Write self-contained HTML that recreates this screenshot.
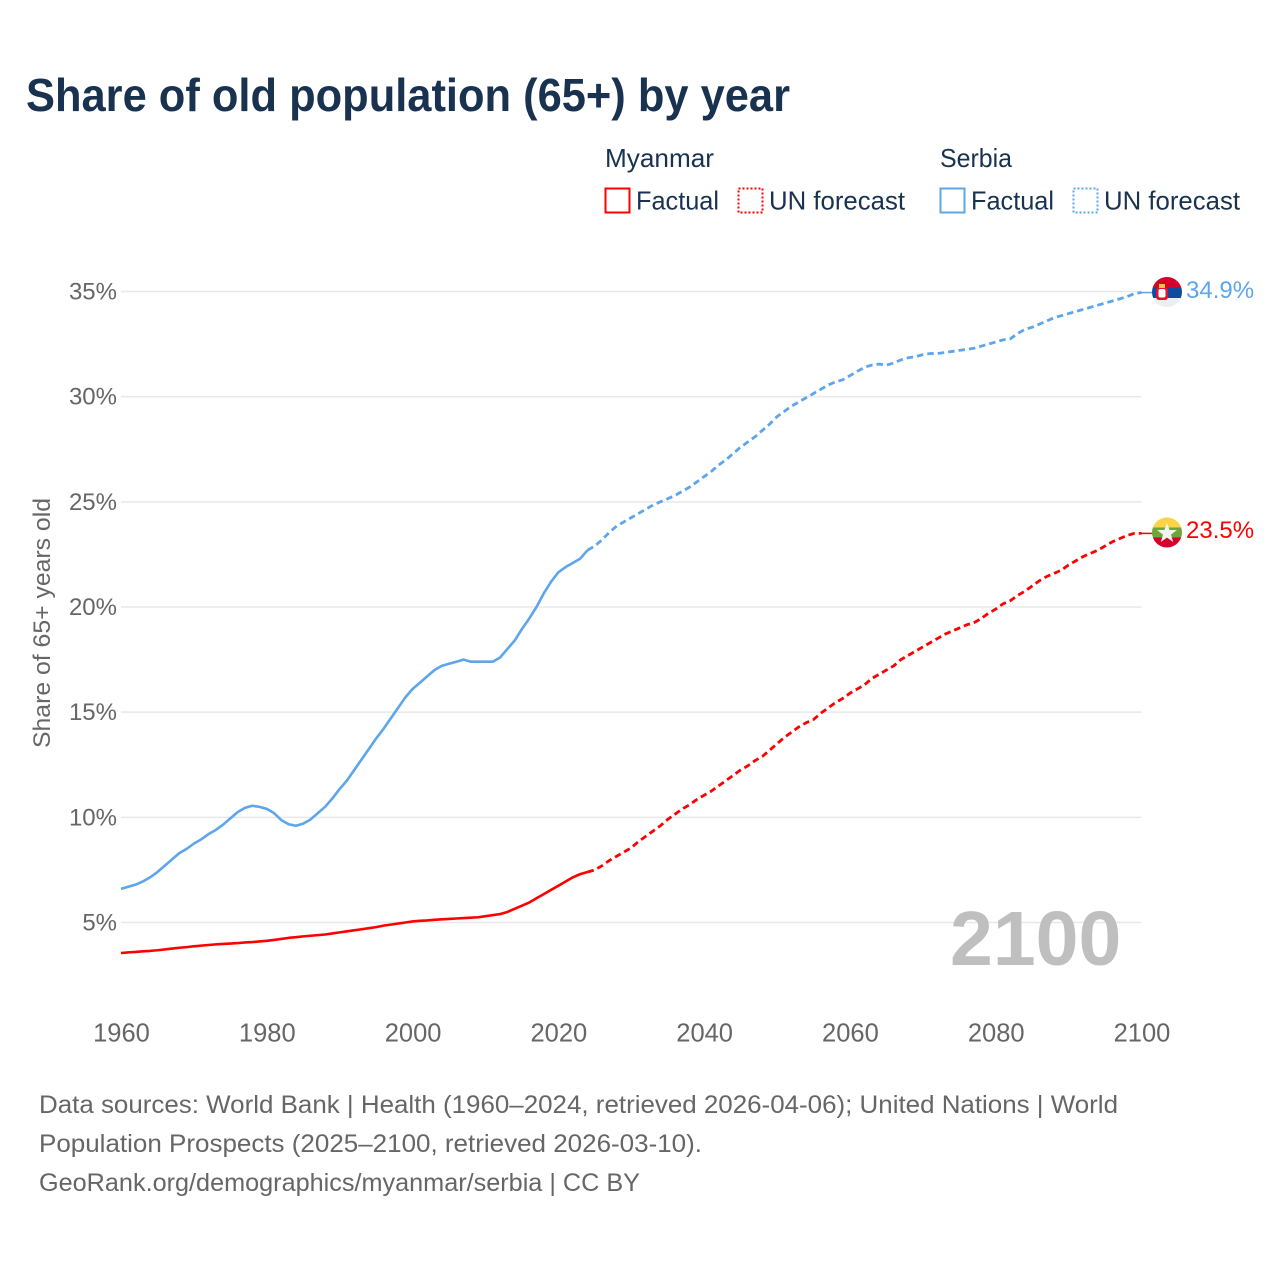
<!DOCTYPE html>
<html lang="en">
<head>
<meta charset="utf-8">
<title>Share of old population (65+) by year</title>
<style>
html,body{margin:0;padding:0;background:#fff;}
svg{display:block;font-family:"Liberation Sans",sans-serif;}
</style>
</head>
<body>
<svg id="chart" xmlns="http://www.w3.org/2000/svg" width="1280" height="1280" viewBox="0 0 1280 1280">
  <defs>
    <clipPath id="clip-serbia"><circle cx="1167" cy="292" r="15"/></clipPath>
    <clipPath id="clip-myanmar"><circle cx="1167" cy="532.5" r="15"/></clipPath>
  </defs>
  <rect x="0" y="0" width="1280" height="1280" fill="#ffffff"/>
  <text x="26" y="111" font-size="46" font-weight="700" fill="#18324f" textLength="764" lengthAdjust="spacingAndGlyphs">Share of old population (65+) by year</text>

  <g font-size="26" fill="#18324f">
    <text x="605" y="167" textLength="109" lengthAdjust="spacingAndGlyphs">Myanmar</text>
    <rect x="605.5" y="188.5" width="24" height="24" fill="none" stroke="#ff0000" stroke-width="2"/>
    <text x="636" y="209.5" textLength="83" lengthAdjust="spacingAndGlyphs">Factual</text>
    <rect x="738.5" y="188.5" width="24" height="24" fill="none" stroke="#ff0000" stroke-width="2" stroke-dasharray="2 2"/>
    <text x="769" y="209.5" textLength="136" lengthAdjust="spacingAndGlyphs">UN forecast</text>
    <text x="940" y="167" textLength="72" lengthAdjust="spacingAndGlyphs">Serbia</text>
    <rect x="940.5" y="188.5" width="24" height="24" fill="none" stroke="#5da5ec" stroke-width="2"/>
    <text x="971" y="209.5" textLength="83" lengthAdjust="spacingAndGlyphs">Factual</text>
    <rect x="1073.5" y="188.5" width="24" height="24" fill="none" stroke="#5da5ec" stroke-width="2" stroke-dasharray="2 2"/>
    <text x="1104" y="209.5" textLength="136" lengthAdjust="spacingAndGlyphs">UN forecast</text>
  </g>

  <g id="grid"></g>
  <g id="yticks" font-size="24" fill="#666666" text-anchor="end"></g>
  <g id="xticks" font-size="25.5" fill="#666666" text-anchor="middle"></g>
  <text transform="translate(50,623) rotate(-90)" font-size="24" fill="#666666" text-anchor="middle" textLength="250" lengthAdjust="spacingAndGlyphs">Share of 65+ years old</text>
  <text x="950" y="965" font-size="77" font-weight="700" fill="#bfbfbf">2100</text>

  <g id="series"></g>

  <g clip-path="url(#clip-serbia)">
    <rect x="1152" y="277" width="30" height="10" fill="#d6002c"/>
    <rect x="1152" y="287" width="30" height="11" fill="#0f4c9e"/>
    <rect x="1152" y="298" width="30" height="10" fill="#eeeeee"/>
    <rect x="1156" y="287" width="12" height="13" rx="3" fill="#e8112d"/>
    <rect x="1158.5" y="289" width="7" height="8.5" rx="2" fill="#ffffff"/>
    <rect x="1159" y="284" width="6" height="4" fill="#f5c542"/>
  </g>
  <g clip-path="url(#clip-myanmar)">
    <rect x="1152" y="517" width="30" height="10.5" fill="#fcd344"/>
    <rect x="1152" y="527.5" width="30" height="10" fill="#6ea63c"/>
    <rect x="1152" y="537.5" width="30" height="11" fill="#d6002c"/>
    <polygon points="1167,523 1169.6,530 1177,530 1171,534.6 1173.2,542 1167,537.6 1160.8,542 1163,534.6 1157,530 1164.4,530" fill="#f2f2f2"/>
  </g>
  <text id="label-serbia" x="1186" y="298" font-size="24" fill="#5da5ec">34.9%</text>
  <text id="label-myanmar" x="1186" y="538" font-size="24" fill="#ff0000">23.5%</text>

  <g font-size="25" fill="#666666">
    <text x="39" y="1113" textLength="1079" lengthAdjust="spacingAndGlyphs">Data sources: World Bank | Health (1960–2024, retrieved 2026-04-06); United Nations | World</text>
    <text x="39" y="1152" textLength="663" lengthAdjust="spacingAndGlyphs">Population Prospects (2025–2100, retrieved 2026-03-10).</text>
    <text x="39" y="1191" textLength="601" lengthAdjust="spacingAndGlyphs">GeoRank.org/demographics/myanmar/serbia | CC BY</text>
  </g>
</svg>

<script>
var xTickLabels = [1960, 1980, 2000, 2020, 2040, 2060, 2080, 2100];
var yTickValues = [5, 10, 15, 20, 25, 30, 35];
var factualStartYear = 1960;
var forecastStartYear = 2024;

var serbiaFactual = [
  6.6,6.7,6.8,6.95,7.15,7.4,7.7,8.0,8.3,8.5,
  8.75,8.95,9.2,9.4,9.65,9.95,10.25,10.45,10.55,10.5,
  10.4,10.2,9.87,9.67,9.6,9.7,9.9,10.2,10.5,10.9,
  11.35,11.75,12.25,12.75,13.25,13.75,14.2,14.7,15.2,15.7,
  16.1,16.4,16.7,17.0,17.2,17.3,17.4,17.5,17.4,17.4,
  17.4,17.4,17.6,18.0,18.4,18.95,19.45,20.0,20.65,21.2,
  21.65,21.9,22.1,22.3,22.7
];
var serbiaForecast = [
  22.7,
  22.9,23.2,23.55,23.85,24.05,
  24.25,24.45,24.65,24.85,25.0,25.15,25.3,25.5,25.7,25.95,
  26.2,26.45,26.75,27.0,27.3,27.6,27.85,28.1,28.4,28.7,
  29.05,29.3,29.55,29.75,29.95,30.15,30.35,30.55,30.7,30.8,
  31.0,31.2,31.4,31.5,31.55,31.5,31.6,31.75,31.85,31.9,
  32.0,32.05,32.05,32.1,32.15,32.2,32.25,32.3,32.4,32.5,
  32.6,32.7,32.75,33.0,33.2,33.3,33.45,33.6,33.75,33.85,
  33.95,34.05,34.15,34.25,34.35,34.45,34.55,34.65,34.75,34.9,
  34.95
];
var myanmarFactual = [
  3.55,3.58,3.6,3.63,3.65,3.68,3.72,3.76,3.8,3.83,
  3.87,3.9,3.93,3.96,3.98,4.0,4.02,4.05,4.07,4.1,
  4.13,4.17,4.22,4.27,4.3,4.34,4.37,4.4,4.43,4.48,
  4.53,4.58,4.63,4.68,4.73,4.78,4.85,4.9,4.95,5.0,
  5.05,5.08,5.1,5.13,5.15,5.17,5.19,5.21,5.23,5.25,
  5.3,5.35,5.4,5.5,5.65,5.8,5.95,6.15,6.35,6.55,
  6.75,6.95,7.15,7.3,7.4
];
var myanmarForecast = [
  7.4,
  7.5,7.7,7.95,8.15,8.35,
  8.55,8.85,9.1,9.35,9.6,9.9,10.15,10.4,10.6,10.85,
  11.05,11.25,11.5,11.75,12.0,12.25,12.45,12.7,12.9,13.2,
  13.5,13.8,14.05,14.3,14.5,14.65,14.95,15.2,15.45,15.65,
  15.9,16.1,16.3,16.6,16.8,17.0,17.2,17.5,17.7,17.9,
  18.1,18.3,18.5,18.7,18.85,19.0,19.15,19.25,19.45,19.7,
  19.9,20.15,20.3,20.55,20.75,21.0,21.25,21.45,21.6,21.75,
  22.0,22.2,22.4,22.55,22.7,22.9,23.1,23.25,23.4,23.5,
  23.5
];

var SVGNS = 'http://www.w3.org/2000/svg';
function xScale(year) { return 121 + (year - 1960) * (1020.5 / 140); }
function yScale(pct) { return 922.5 - (pct - 5) * (631 / 30); }

var gridGroup = document.getElementById('grid');
var yTickGroup = document.getElementById('yticks');
var xTickGroup = document.getElementById('xticks');
var seriesGroup = document.getElementById('series');

yTickValues.forEach(function (v) {
  var line = document.createElementNS(SVGNS, 'line');
  
  
  line.setAttribute('x1', 121);
  line.setAttribute('x2', 1141.5);
  line.setAttribute('y1', yScale(v));
  line.setAttribute('y2', yScale(v));
  line.setAttribute('stroke', '#e8e8e8');
  line.setAttribute('stroke-width', '1.5');
  gridGroup.appendChild(line);

  var label = document.createElementNS(SVGNS, 'text');
  
  
  label.setAttribute('x', 117);
  label.setAttribute('y', yScale(v) + 8);
  label.textContent = v + '%';
  yTickGroup.appendChild(label);
});

xTickLabels.forEach(function (year) {
  var label = document.createElementNS(SVGNS, 'text');
  
  
  label.setAttribute('x', xScale(year) + 0.5);
  label.setAttribute('y', 1041.5);
  label.textContent = year;
  xTickGroup.appendChild(label);
});

function pathFor(values, startYear) {
  return values.map(function (v, i) {
    return (i ? 'L' : 'M') + xScale(startYear + i).toFixed(2) + ' ' + yScale(v).toFixed(2);
  }).join(' ');
}

function drawLine(values, startYear, color, dashed, name) {
  var path = document.createElementNS(SVGNS, 'path');
  
  
  path.setAttribute('d', pathFor(values, startYear));
  path.setAttribute('fill', 'none');
  path.setAttribute('stroke', color);
  path.setAttribute('stroke-width', dashed ? '2.8' : '2.6');
  path.setAttribute('stroke-linejoin', 'round');
  if (dashed) { path.setAttribute('stroke-dasharray', '6.5 4'); }
  seriesGroup.appendChild(path);
}

function drawConnector(values, color, name) {
  var last = values[values.length - 1];
  var line = document.createElementNS(SVGNS, 'line');
  
  
  line.setAttribute('x1', xScale(2100));
  line.setAttribute('x2', xScale(2100) + 11);
  line.setAttribute('y1', yScale(last));
  line.setAttribute('y2', yScale(last));
  line.setAttribute('stroke', color);
  line.setAttribute('stroke-width', '1.5');
  seriesGroup.appendChild(line);
}

drawLine(serbiaFactual, factualStartYear, '#5da5ec', false, 'line-serbia-factual');
drawLine(serbiaForecast, forecastStartYear, '#5da5ec', true, 'line-serbia-forecast');
drawLine(myanmarFactual, factualStartYear, '#ff0000', false, 'line-myanmar-factual');
drawLine(myanmarForecast, forecastStartYear, '#ff0000', true, 'line-myanmar-forecast');
drawConnector(serbiaForecast, '#5da5ec', 'connector-serbia');
drawConnector(myanmarForecast, '#ff0000', 'connector-myanmar');
</script>
</body>
</html>
